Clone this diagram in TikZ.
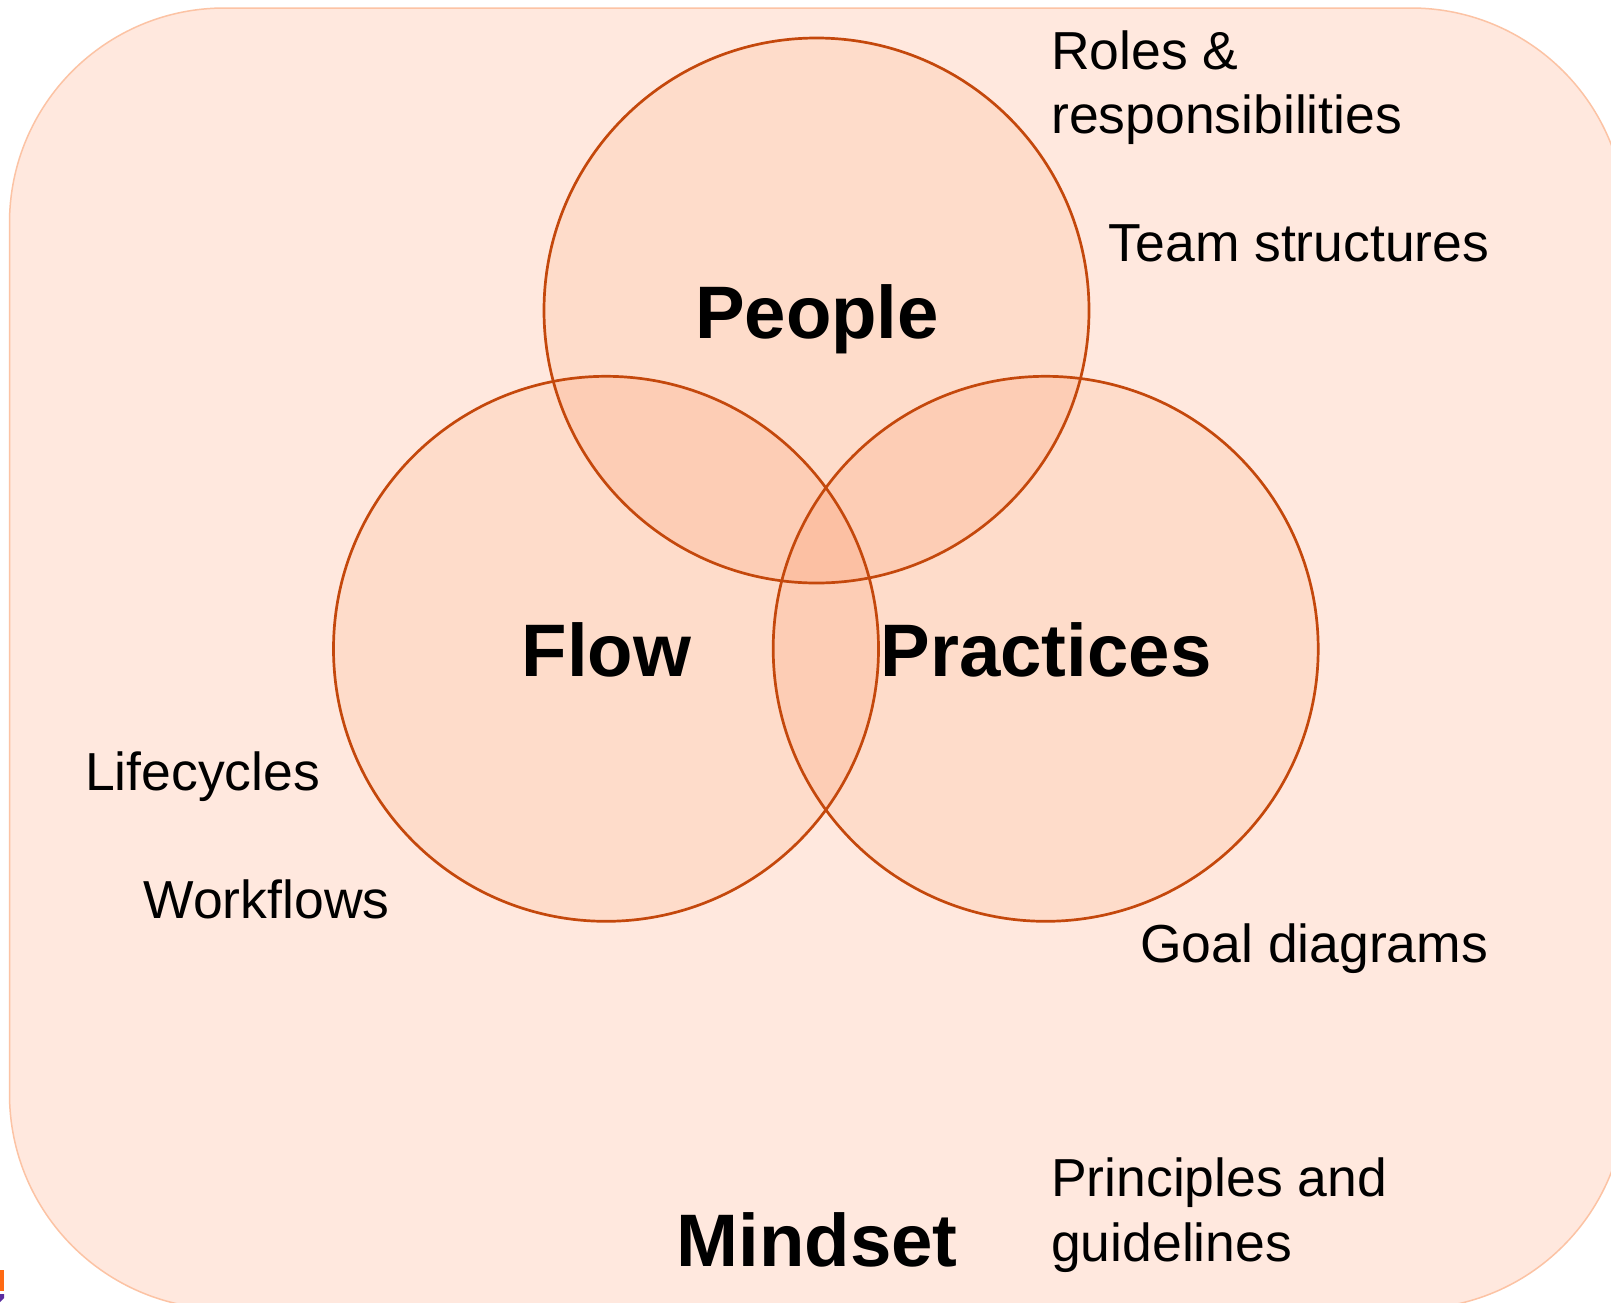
\documentclass[tikz,border=0pt]{standalone}
\usepackage{fontspec}
\setmainfont{Liberation Sans}
\definecolor{bgfill}{HTML}{FFE8DE}
\definecolor{bgline}{HTML}{FCC3A4}
\definecolor{onefill}{HTML}{FEDCCA}
\definecolor{twofill}{HTML}{FDCDB5}
\definecolor{threefill}{HTML}{FCC0A3}
\definecolor{ringline}{HTML}{C4480C}
\definecolor{markorange}{HTML}{FF6A13}
\definecolor{markpurple}{HTML}{5B2DA0}
\newcommand{\ringr}{272.5}
\tikzset{
  x=1pt,y=-1pt,
  ring/.style={circle,draw=ringline,line width=2.7pt,minimum size=545pt,inner sep=0pt,fill=none},
  small/.style={font=\fontsize{53.5}{64}\selectfont,inner sep=0pt,text=black,align=left,anchor=base west},
  big/.style={font=\fontsize{74.4}{84}\selectfont\bfseries,inner sep=0pt,text=black,anchor=base}
}
\begin{document}
\begin{tikzpicture}
\useasboundingbox (0,0) rectangle (1611,1302);
\fill[white] (0,0) rectangle (1611,1302);
\begin{scope}
\clip (0,0) rectangle (1611,1302);
\draw[fill=bgfill,draw=bgline,line width=1.5pt,rounded corners=215pt] (9.5,8) rectangle (1626,1309);
\coordinate (pc) at (816.5,310.5);
\coordinate (fc) at (606,648.8);
\coordinate (rc) at (1045.7,648.8);
\fill[onefill] (pc) circle (\ringr);
\fill[onefill] (fc) circle (\ringr);
\fill[onefill] (rc) circle (\ringr);
\begin{scope}\clip (pc) circle (\ringr); \fill[twofill] (fc) circle (\ringr); \fill[twofill] (rc) circle (\ringr);\end{scope}
\begin{scope}\clip (fc) circle (\ringr); \fill[twofill] (rc) circle (\ringr);\end{scope}
\begin{scope}\clip (pc) circle (\ringr); \clip (fc) circle (\ringr); \fill[threefill] (rc) circle (\ringr);\end{scope}
\fill[markorange] (0,1270) rectangle (4,1291);
\fill[markpurple] (0,1294) -- (4,1294) -- (4,1298) -- (0,1302) -- cycle;
\end{scope}
\node[ring] (people) at (pc) {};
\node[ring] (flow) at (fc) {};
\node[ring] (practices) at (rc) {};
\node[big] (tpeople) at (817,338) {People};
\node[big] (tflow) at (606.5,676) {Flow};
\node[big] (tpractices) at (1046,676) {Practices};
\node[big] (tmindset) at (817,1266) {Mindset};
\node[small] (roles) at (1051,69) {Roles \&};
\node[small] (resp) at (1051,133.5) {responsibilities};
\node[small] (team) at (1108.5,261) {Team structures};
\node[small] (life) at (85,790) {Lifecycles};
\node[small] (work) at (143.5,918.5) {Workflows};
\node[small] (goal) at (1140,962.5) {Goal diagrams};
\node[small] (prin) at (1051,1196) {Principles and};
\node[small] (guide) at (1051,1261) {guidelines};
\end{tikzpicture}
\end{document}
